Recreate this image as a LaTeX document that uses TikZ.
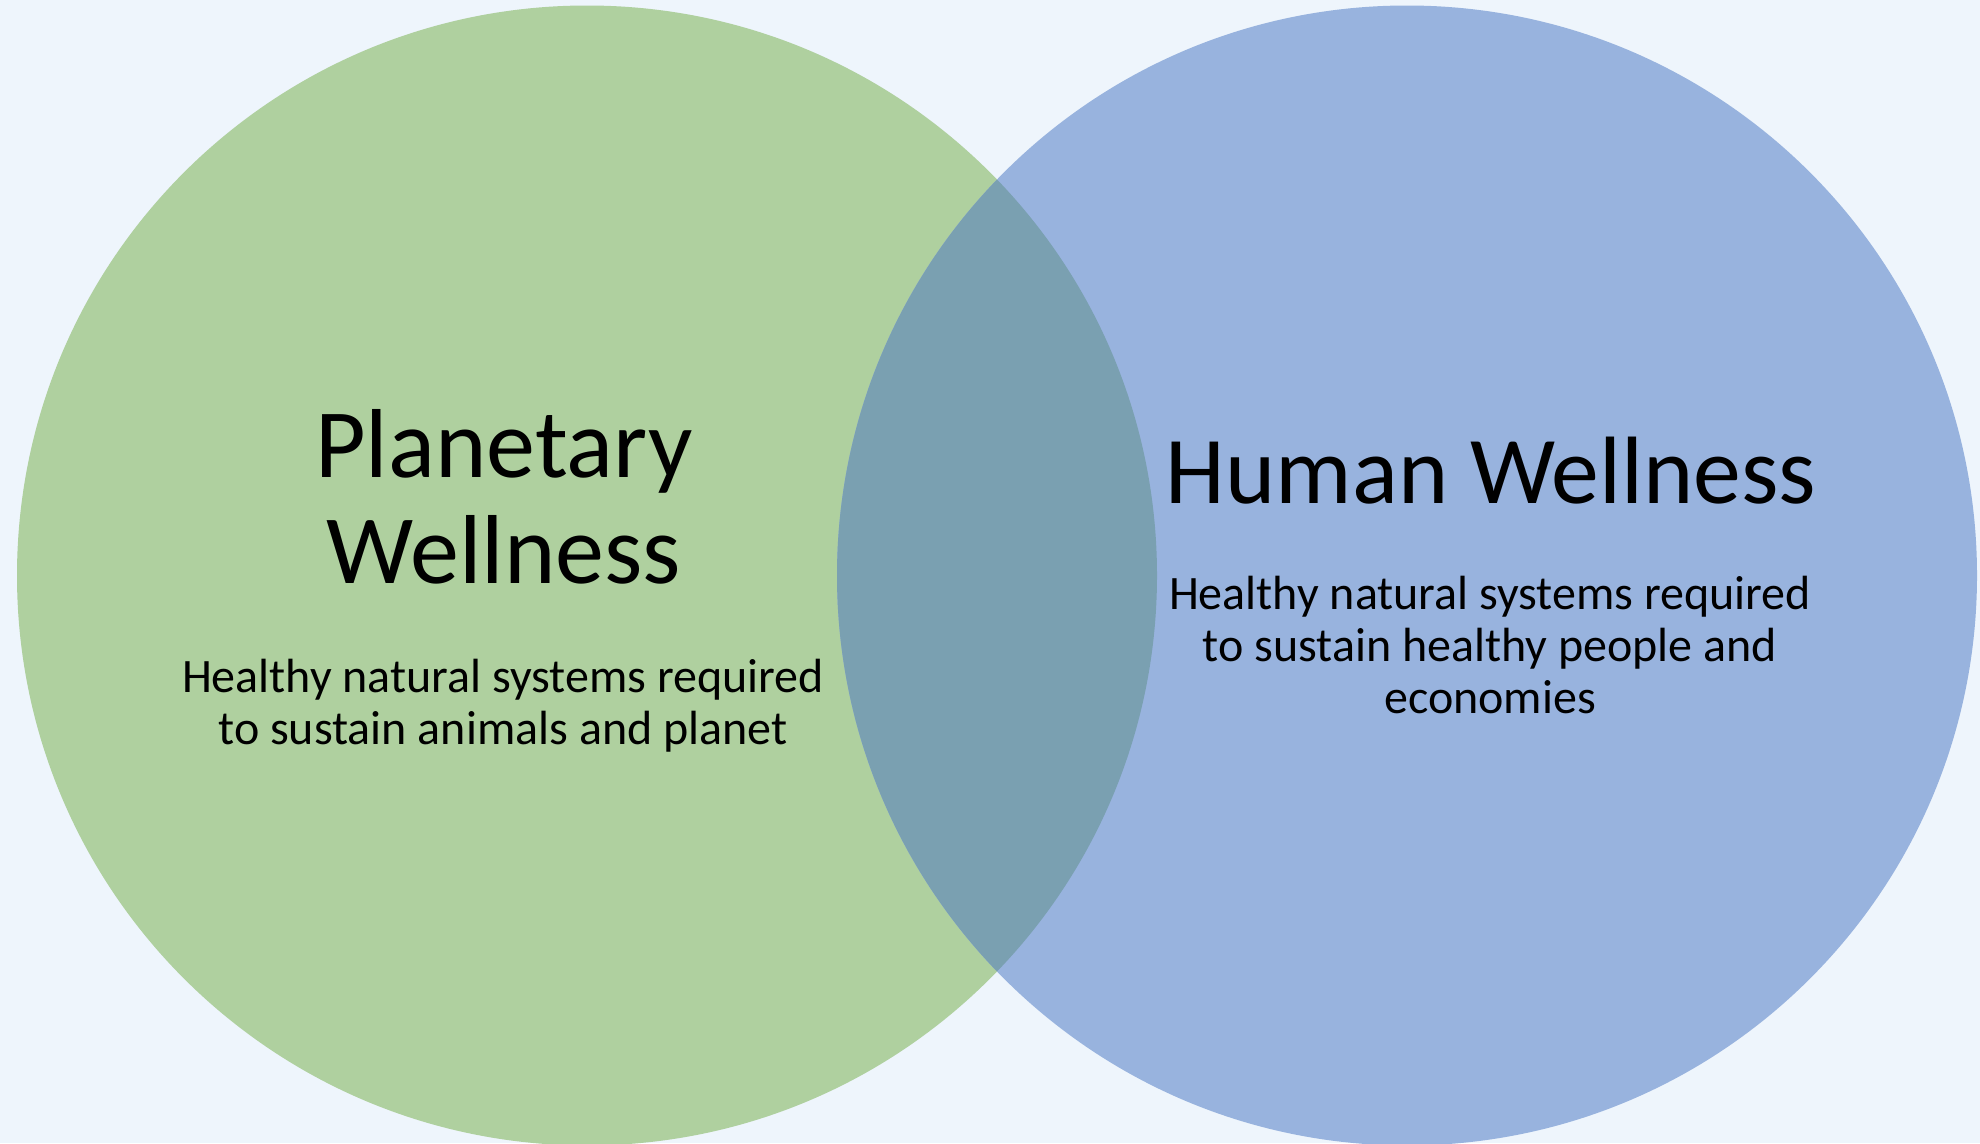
\documentclass[tikz,border=0pt]{standalone}
\usepackage{fontspec}
\setmainfont{Carlito}
\definecolor{bgc}{HTML}{EEF5FC}
\definecolor{greenc}{HTML}{AFD09F}
\definecolor{bluec}{HTML}{98B3DE}
\definecolor{overc}{HTML}{7AA0B1}
\tikzset{
  titletext/.style={font=\fontsize{98}{106}\selectfont, align=center, anchor=base, inner sep=0pt},
  bodytext/.style={font=\fontsize{48}{52}\selectfont, align=center, anchor=base, inner sep=0pt},
}
\begin{document}
\begin{tikzpicture}[x=1pt,y=-1pt]
\fill[bgc] (0,0) rectangle (1980,1143);
\useasboundingbox (0,0) rectangle (1980,1143);
\fill[greenc] (587,575.5) circle[radius=570];
\fill[bluec] (1407,575.5) circle[radius=570];
\begin{scope}
\clip (587,575.5) circle[radius=570];
\fill[overc] (1407,575.5) circle[radius=570];
\end{scope}
\node[titletext] (pw) at (504,583) {Planetary\\Wellness};
\node[bodytext] (pwt) at (503,744) {Healthy natural systems required\\to sustain animals and planet};
\node[titletext, font=\fontsize{95.7}{106}\selectfont] (hw) at (1491,503) {Human Wellness};
\node[bodytext] (hwt) at (1490,713) {Healthy natural systems required\\to sustain healthy people and\\economies};
\end{tikzpicture}
\end{document}
